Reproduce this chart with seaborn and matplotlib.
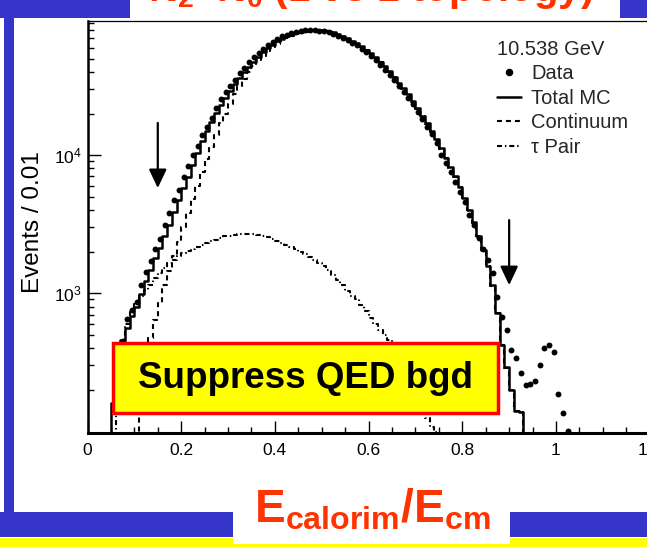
import numpy as np
import pandas as pd
import matplotlib
matplotlib.use("Agg")
import matplotlib.pyplot as plt
import seaborn as sns
from matplotlib.patches import Rectangle
from matplotlib.lines import Line2D
from matplotlib.ticker import FixedLocator, MultipleLocator, LogLocator, LogFormatterSciNotation, NullFormatter

# ---------------- data ----------------
bin_width = 0.01

data_x_first = 0.065
data_y = [330, 450, 650, 750, 860, 1150, 1420, 1700, 2080,
          2480, 3100, 3800, 4700, 5550, 6900, 8400, 10000, 11700, 13900,
          16100, 18500, 22000, 25500, 28600, 31800, 35100, 39000, 43000, 47000,
          51000, 54800, 58600, 62400, 65900, 69300, 72500, 74400, 76600, 78200,
          79500, 80300, 80500, 80300, 79800, 79000, 77500, 75500, 73000, 70500,
          67800, 65000, 62500, 59000, 55800, 52200, 48700, 45000, 41500, 38000,
          34800, 31800, 28800, 26000, 23400, 20600, 18200, 16000, 14100, 12200,
          10000, 8700, 7500, 6400, 5400, 4600, 3700, 3100, 2500, 2100,
          1750, 1400, 930, 670, 540, 390, 340, 262, 215, 219,
          231, 301, 398, 420, 376, 185, 136, 100]

mc_x_first = 0.045
mc_y = [0, 160, 320, 455, 560, 680, 800, 980, 1220, 1460, 1790,
        2120, 2580, 3130, 3850, 4740, 5770, 6970, 8510, 10300, 12600,
        14900, 17300, 20200, 23000, 26000, 29000, 32500, 36000, 39800, 43500,
        47500, 51500, 55500, 59500, 63000, 66500, 69500, 72500, 75000, 77000,
        78500, 79500, 80200, 80500, 80500, 80000, 79000, 77500, 75500, 73000,
        70500, 67500, 64500, 61500, 58000, 54500, 51000, 47500, 44000, 40500,
        37000, 33500, 30500, 27500, 24500, 21800, 19200, 17000, 14900, 13000,
        11200, 9600, 8200, 7000, 5900, 4900, 4000, 3250, 2600, 2050,
        1580, 1140, 720, 420, 290, 200, 140, 138, 0]

cont_x_first = 0.105
cont_y = [0, 220, 330, 470, 640, 850, 1150, 1450, 1850, 2350, 3000,
          3800, 4800, 6000, 7500, 9300, 11500, 14000, 17000, 20000, 23500,
          27500, 31500, 35500, 40000, 44000, 48500, 52500, 57000, 60500, 64000,
          67000, 70000, 72700, 75000, 76500, 77700, 78500, 79000, 79000, 78500,
          77500, 76000, 74000, 71800, 69400, 66500, 63600, 60700, 57300, 53800,
          50400, 47000, 43500, 40000, 36600, 33200, 30200, 27200, 24300, 21600,
          19100, 16900, 14800, 12900, 11100, 9500, 8100, 6900, 5850, 4850,
          3970, 3230, 2580, 2040, 1570, 1130, 715, 418, 288, 199,
          139, 137, 0]

tau_x_first = 0.055
tau_y = [0, 260, 400, 600, 730, 830, 950, 1050, 1150, 1280, 1400,
         1520, 1640, 1750, 1850, 1950, 2030, 2100, 2170, 2240, 2310,
         2370, 2430, 2510, 2580, 2610, 2640, 2660, 2680, 2700, 2690,
         2650, 2600, 2540, 2470, 2400, 2320, 2240, 2160, 2080, 2000,
         1920, 1830, 1740, 1650, 1560, 1470, 1360, 1250, 1140, 1040,
         960, 900, 820, 740, 660, 600, 545, 495, 455, 400,
         350, 300, 250, 205, 170, 145, 125, 108, 98, 0]

legend_title = "10.538 GeV"
legend_labels = ["Data", "Total MC", "Continuum", "\u03c4 Pair"]
x_ticks = [0, 0.2, 0.4, 0.6, 0.8, 1.0, 1.2]
x_tick_labels = ["0", "0.2", "0.4", "0.6", "0.8", "1", "1.2"]
y_major = [1e3, 1e4]
cut_positions = [0.15, 0.90]
cut_arrow_top = [17100, 3380]
cut_arrow_tip = [5770, 1143]


def centers(first, n):
    return np.round(first + bin_width * np.arange(n), 4)


def edges(first, n):
    return [float(v) for v in np.round(first - bin_width / 2 + bin_width * np.arange(n + 1), 4)]


df_data = pd.DataFrame({"x": centers(data_x_first, len(data_y)), "y": data_y})
df_mc = pd.DataFrame({"x": centers(mc_x_first, len(mc_y)), "w": mc_y})
df_cont = pd.DataFrame({"x": centers(cont_x_first, len(cont_y)), "w": cont_y})
df_tau = pd.DataFrame({"x": centers(tau_x_first, len(tau_y)), "w": tau_y})

# ---------------- style ----------------
sns.set_theme(style="white")
plt.rcParams['font.family'] = ['Liberation Sans', 'DejaVu Sans']
plt.rcParams['mathtext.fontset'] = 'custom'
plt.rcParams['mathtext.rm'] = 'Liberation Sans'
plt.rcParams['mathtext.it'] = 'Liberation Sans:italic'
plt.rcParams['mathtext.bf'] = 'Liberation Sans:bold'

W, H = 647, 547
fig = plt.figure(figsize=(W / 100, H / 100), dpi=100, facecolor="white")


def fx(px):
    return px / W


def fy(py):
    return 1 - py / H


BLUE = "#3535c9"
RED_TXT = "#ff3300"

# axes: left spine x=88, bottom y=433, top y=21, x=1.2 at ~650 px
ax_left, ax_right, ax_top, ax_bot = 87.5, 649.7, 21, 433
ax = fig.add_axes([fx(ax_left), fy(ax_bot), (ax_right - ax_left) / W, (ax_bot - ax_top) / H])
ax.set_facecolor("white")

lw_mc = 1.8
sns.histplot(data=df_mc, x="x", weights="w", bins=edges(mc_x_first, len(mc_y)),
             element="step", fill=False, color="black", linewidth=lw_mc, ax=ax)
sns.histplot(data=df_cont, x="x", weights="w", bins=edges(cont_x_first, len(cont_y)),
             element="step", fill=False, color="black", linewidth=1.5,
             linestyle=(0, (2.4, 1.9)), ax=ax)
sns.histplot(data=df_tau, x="x", weights="w", bins=edges(tau_x_first, len(tau_y)),
             element="step", fill=False, color="black", linewidth=1.5,
             linestyle=(0, (2.4, 1.4, 0.7, 1.4)), ax=ax)
sns.scatterplot(data=df_data, x="x", y="y", color="black", s=18, linewidth=0,
                ax=ax, zorder=5)

ax.set_yscale("log")
ax.set_xlim(0, 1.2)
ax.set_ylim(97, 93600)
ax.set_xlabel("")
ax.set_ylabel("")

ax.xaxis.set_major_locator(FixedLocator(x_ticks))
ax.set_xticklabels(x_tick_labels)
ax.xaxis.set_minor_locator(MultipleLocator(0.05))
ax.yaxis.set_major_locator(FixedLocator(y_major))
ax.yaxis.set_major_formatter(LogFormatterSciNotation())
ax.yaxis.set_minor_locator(LogLocator(base=10, subs=np.arange(2, 10)))
ax.yaxis.set_minor_formatter(NullFormatter())

ax.tick_params(axis="both", which="major", direction="in", length=9, width=1.0,
               colors="black", labelsize=12.5, top=False, right=False, left=True, bottom=True)
ax.tick_params(axis="both", which="minor", direction="in", length=4.5, width=1.0,
               colors="black", top=False, right=False, left=True, bottom=True)
ax.tick_params(axis="x", which="major", pad=7)
ax.tick_params(axis="y", which="major", pad=4)
ax.grid(False)
for side, lw in [("left", 1.8), ("bottom", 2.2), ("top", 0.9), ("right", 0.9)]:
    ax.spines[side].set_visible(True)
    ax.spines[side].set_color("black")
    ax.spines[side].set_linewidth(lw)

# cut arrows
for xc, yt, yb in zip(cut_positions, cut_arrow_top, cut_arrow_tip):
    ax.annotate("", xy=(xc, yb), xytext=(xc, yt),
                arrowprops=dict(arrowstyle="-|>,head_length=0.95,head_width=0.45",
                                color="black", lw=1.6, shrinkA=0, shrinkB=0))

# legend
handles = [Line2D([], [], marker="o", color="black", linestyle="none", markersize=4.4),
           Line2D([], [], color="black", lw=1.8),
           Line2D([], [], color="black", lw=1.5, linestyle=(0, (2.4, 1.9))),
           Line2D([], [], color="black", lw=1.5, linestyle=(0, (2.4, 1.4, 0.7, 1.4)))]
leg = ax.legend(handles, legend_labels, title=legend_title, loc="upper left",
                bbox_to_anchor=(fx(497), fy(40)), bbox_transform=fig.transFigure,
                frameon=False, fontsize=14.5, title_fontsize=14.5, handlelength=1.2,
                handletextpad=0.5, labelspacing=0.27, borderpad=0, borderaxespad=0,
                alignment="left")

# y label
fig.text(fx(33), fy(222), "Events / 0.01", rotation=90, ha="center", va="center",
         fontsize=17.5, color="black")

# ---------------- slide decorations ----------------
def rect(x0, y0, x1, y1, **kw):
    r = Rectangle((fx(x0), fy(y1)), fx(x1) - fx(x0), fy(y0) - fy(y1),
                  transform=fig.transFigure, **kw)
    fig.add_artist(r)
    return r

rect(0, 0, 130, 18, facecolor=BLUE, edgecolor="none", zorder=1)
rect(620, 0, 647, 18, facecolor=BLUE, edgecolor="none", zorder=1)
rect(130, 0, 620, 19, facecolor="white", edgecolor="none", zorder=1)
rect(4, 15, 14, 520, facecolor=BLUE, edgecolor="none", zorder=1)
rect(0, 512, 647, 537, facecolor=BLUE, edgecolor="none", zorder=1)
rect(0, 538, 647, 547, facecolor="#ffff00", edgecolor="none", zorder=1)
rect(233, 470, 510, 544, facecolor="white", edgecolor="none", zorder=2)

# title (mostly cut off at the top)
fig.text(fx(148), fy(1), r"$\mathbf{N_2\ \ N_0}$ (1 vs 1 topology)", color=RED_TXT,
         fontsize=29, fontweight="bold", ha="left", va="baseline", zorder=3)

# x label
fig.text(fx(372), fy(523), r"$\mathbf{E_{calorim}/E_{cm}}$", color=RED_TXT,
         fontsize=33, ha="center", va="baseline", zorder=4)

# "Suppress QED bgd" box
rect(113, 343, 498, 413, facecolor="#ffff00", edgecolor="#ff0000", linewidth=2.5, zorder=6)
fig.text(fx(306), fy(378), "Suppress QED bgd", color="black", fontsize=26.5,
         fontweight="bold", ha="center", va="center", zorder=7)

fig.savefig("out.png", dpi=100, facecolor="white")
